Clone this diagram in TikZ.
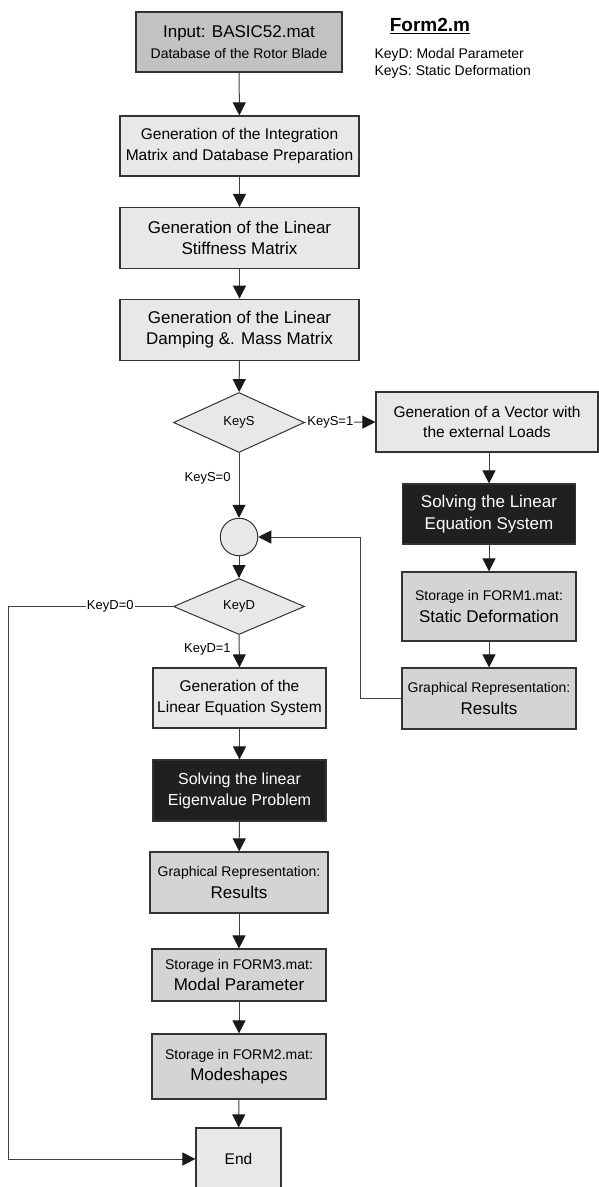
\documentclass[tikz,border=0pt]{standalone}
\usepackage{fontspec}
\setmainfont{Liberation Sans}
\usetikzlibrary{arrows.meta,shapes.geometric}

\definecolor{boxin}{HTML}{C2C2C2}
\definecolor{boxlight}{HTML}{E8E8E8}
\definecolor{boxmid}{HTML}{D4D4D4}
\definecolor{boxdark}{HTML}{202020}

\newcommand{\bigfont}{\fontsize{17}{21.5}\selectfont}
\newcommand{\midfont}{\fontsize{15.5}{20.5}\selectfont}
\newcommand{\smallfont}{\fontsize{14}{21}\selectfont}
\newcommand{\lblfont}{\fontsize{13}{15}\selectfont}

\tikzset{
  box/.style={draw=black!80, line width=1.2pt, fill=boxlight, inner sep=0pt, align=center, font=\bigfont},
  midbox/.style={box, fill=boxmid},
  darkbox/.style={box, fill=boxdark, text=white},
  decide/.style={diamond, draw=black!80, line width=1pt, fill=boxlight, inner sep=0pt, font=\lblfont},
  arr/.style={-{Triangle[length=13pt,width=13pt,color=black!90]}, draw=black!75, line width=1pt},
  lbl/.style={font=\lblfont, inner sep=1pt},
}

\begin{document}
\begin{tikzpicture}[x=1pt, y=-1pt]
  \useasboundingbox (0,0) rectangle (599,1187);
  \clip (0,0) rectangle (599,1187);

  % main column
  \node[box, fill=boxin, minimum width=206, minimum height=60] (in) at (239,42)
    {Input: BASIC52.mat\\{\smallfont Database of the Rotor Blade}};
  \node[box, font=\midfont, minimum width=239, minimum height=60] (integ) at (239.5,146)
    {Generation of the Integration\\Matrix and Database Preparation};
  \node[box, minimum width=239, minimum height=61] (stiff) at (239.5,238)
    {Generation of the Linear\\Stiffness Matrix};
  \node[box, minimum width=239, minimum height=61] (damp) at (239.5,329.7)
    {Generation of the Linear\\Damping \&. Mass Matrix};
  \node[decide, minimum width=131, minimum height=60] (keyS) at (239,422.5) {KeyS};
  \node[circle, draw=black!80, line width=1pt, fill=boxlight, minimum size=37.5, inner sep=0pt] (join) at (239,537) {};
  \node[decide, minimum width=131, minimum height=56] (keyD) at (239,606.5) {KeyD};
  \node[box, font=\midfont, minimum width=173, minimum height=60] (lineq) at (239.5,698)
    {Generation of the\\Linear Equation System};
  \node[darkbox, font=\fontsize{16}{21}\selectfont, minimum width=173, minimum height=61] (eigen) at (239.5,790.5)
    {Solving the linear\\Eigenvalue Problem};
  \node[midbox, minimum width=178, minimum height=61] (graph) at (239,882.5)
    {\smallfont Graphical Representation:\\Results};
  \node[midbox, minimum width=174, minimum height=52] (form3) at (239,975)
    {\smallfont Storage in FORM3.mat:\\Modal Parameter};
  \node[midbox, minimum width=174, minimum height=65] (form2) at (239,1066.5)
    {\smallfont Storage in FORM2.mat:\\Modeshapes};
  \node[box, font=\midfont, minimum width=85, minimum height=62] (end) at (238.5,1159) {End};

  % static branch
  \node[box, font=\midfont, minimum width=222, minimum height=60] (loads) at (487,422)
    {Generation of a Vector with\\the external Loads};
  \node[darkbox, minimum width=173, minimum height=60] (solve) at (489,514)
    {Solving the Linear\\Equation System};
  \node[midbox, minimum width=174, minimum height=69] (form1) at (489,606.4)
    {\smallfont Storage in FORM1.mat:\\Static Deformation};
  \node[midbox, minimum width=174, minimum height=61] (graphS) at (489,698.5)
    {\smallfont Graphical Representation:\\Results};

  % title and keys
  \node[font=\fontsize{19}{22}\selectfont\bfseries] (title) at (430,26) {\underline{Form2.m}};
  \node[anchor=west, align=left, font=\fontsize{14}{17}\selectfont] (keys) at (371,63.5)
    {KeyD: Modal Parameter\\KeyS: Static Deformation};

  \coordinate (rim) at (8,0);

  \draw[arr] (in) -- (integ);
  \draw[arr] (integ) -- (stiff);
  \draw[arr] (stiff) -- (damp);
  \draw[arr] (damp) -- (keyS);
  \draw[arr] (keyS.east) -- node[lbl, fill=white, pos=0.36] {KeyS=1} (loads.west);
  \draw[arr] (keyS.south) -- node[lbl, pos=0.39, left=7pt] {KeyS=0} (join.north);
  \draw[arr] (join) -- (keyD);
  \draw[arr] (keyD.west) -- node[lbl, fill=white, pos=0.38] {KeyD=0} (keyD.west -| rim) |- (end.west);
  \draw[arr] (keyD.south) -- node[lbl, pos=0.45, left=7pt] {KeyD=1} (lineq.north);
  \draw[arr] (lineq) -- (eigen);
  \draw[arr] (eigen) -- (graph);
  \draw[arr] (graph) -- (form3);
  \draw[arr] (form3) -- (form2);
  \draw[arr] (form2) -- (end);
  \draw[arr] (solve.north |- loads.south) -- (solve.north);
  \draw[arr] (solve) -- (form1);
  \draw[arr] (form1) -- (graphS);
  \draw[arr] (graphS.west) -- ++(-41,0) |- (join.east);
\end{tikzpicture}
\end{document}
